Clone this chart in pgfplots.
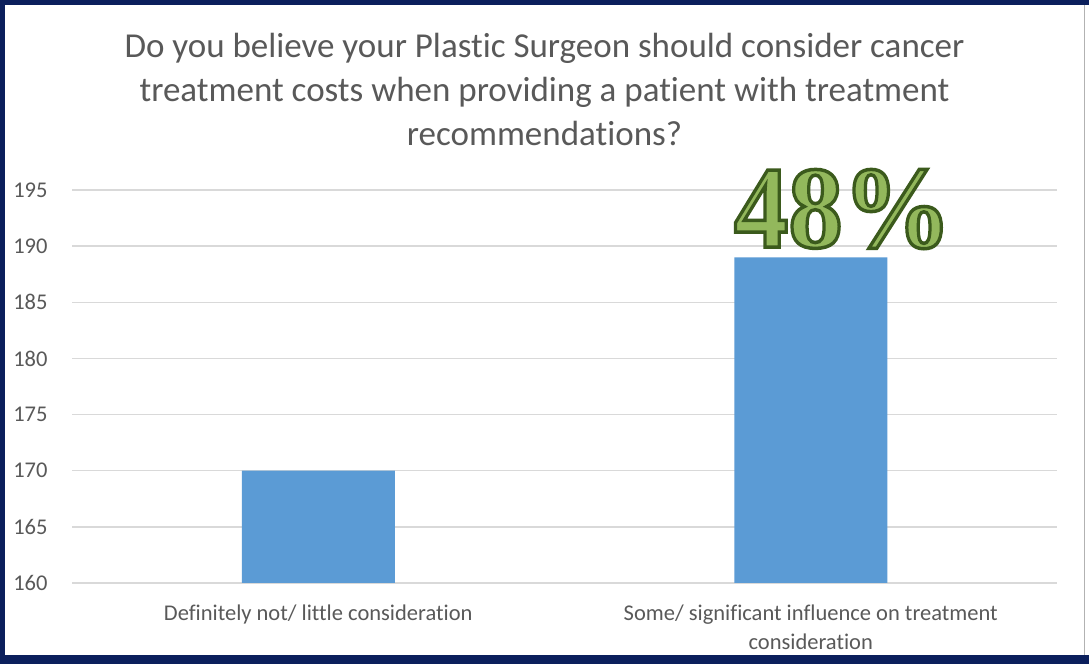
\documentclass[border=0pt]{standalone}
\usepackage{fontspec}
\setmainfont[Ligatures={NoCommon}]{Carlito}
\newfontfamily\bigserif{Liberation Serif}
\usepackage{pgfplots}
\pgfplotsset{compat=1.18}
\definecolor{barblue}{HTML}{5B9BD5}
\definecolor{txtgray}{HTML}{595959}
\definecolor{gridgray}{HTML}{D9D9D9}
\definecolor{navy}{HTML}{0B1F5C}
\definecolor{dkgreen}{HTML}{3B5A1C}
\definecolor{ltgreen}{HTML}{93B85C}
\newcommand{\bigpct}{\bigserif\bfseries\fontsize{117bp}{117bp}\selectfont
  \special{pdf:literal direct q 2 Tr 3.5 w 0.231 0.353 0.110 RG}48\%\special{pdf:literal direct Q}}
\begin{document}
\begin{tikzpicture}[x=1bp,y=1bp]
\fill[white] (0,0) rectangle (1089,664);
\begin{axis}[
  at={(72bp,81bp)}, anchor=south west,
  scale only axis, width=985bp, height=393bp,
  xmin=-0.5, xmax=1.5, ymin=160, ymax=195,
  clip mode=individual,
  ytick={160,165,...,195},
  xtick={0,1},
  xticklabels={Definitely not/ little consideration, {Some/ significant influence on treatment\\consideration}},
  axis line style={draw=none},
  major tick length=0pt,
  ymajorgrids, grid style={color=gridgray, line width=1.5bp},
  ybar, bar width=153bp,
  /pgf/number format/assume math mode=true,
  yticklabel style={font=\fontsize{22.5bp}{26bp}\selectfont, text=txtgray, xshift=-21bp},
  xticklabel style={font=\fontsize{22.5bp}{29bp}\selectfont, text=txtgray, align=center, yshift=-18bp},
]
\addplot[fill=barblue, draw=none] coordinates {(0,170) (1,189)};
\node[text=ltgreen, xscale=0.93, inner sep=0] at (axis cs:1.065,193.3) {\bigpct};
\end{axis}
\node[align=center, text=txtgray, font=\fontsize{35bp}{44bp}\selectfont] at (544.5,575) {Do you believe your Plastic Surgeon should consider cancer\\treatment costs when providing a patient with treatment\\recommendations?};
\fill[navy] (0,0) rectangle (1089,9);
\fill[navy] (0,659) rectangle (1089,664);
\fill[navy] (0,0) rectangle (5,664);
\draw[gray!60, line width=1.5bp] (1084.5,9) -- (1084.5,659);
\end{tikzpicture}
\end{document}
